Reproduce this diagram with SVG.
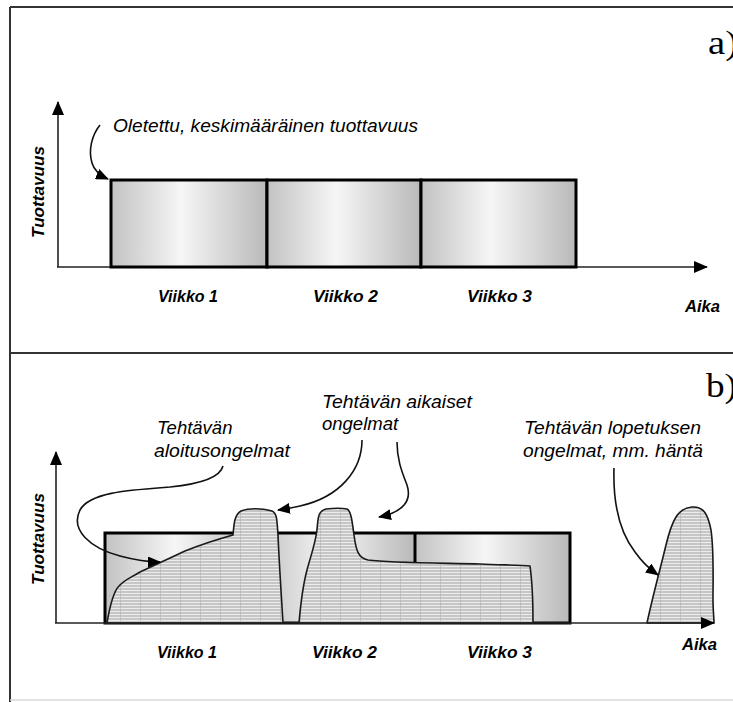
<svg xmlns="http://www.w3.org/2000/svg" width="733" height="702" viewBox="0 0 733 702">
  <style>
    .frame { stroke: #333; stroke-width: 2; fill: none; }
    .axis { stroke: #222; stroke-width: 1.6; fill: none; }
    .cell { fill: url(#cellGrad); stroke: #000; stroke-width: 3; }
    .div { stroke: #000; stroke-width: 3; }
    .blob { fill: url(#hatch); stroke: #1a1a1a; stroke-width: 1.6; stroke-linejoin: round; }
    .lead { stroke: #111; stroke-width: 1.6; fill: none; marker-end: url(#head); }
    .note { font-family: "Liberation Sans", Arial, sans-serif; font-style: italic; font-size: 18.5px; fill: #000; }
    .lab { font-family: "Liberation Sans", Arial, sans-serif; font-style: italic; font-weight: bold; font-size: 17px; fill: #000; }
    .tag { font-family: "Liberation Serif", "Times New Roman", serif; font-size: 33px; fill: #000; }
  </style>
  <defs>
    <linearGradient id="cellGrad" x1="0" y1="0" x2="1" y2="0">
      <stop offset="0" stop-color="#c2c2c2"/>
      <stop offset="0.45" stop-color="#f6f6f6"/>
      <stop offset="1" stop-color="#b9b9b9"/>
    </linearGradient>
    <pattern id="hatch" width="20" height="3" patternUnits="userSpaceOnUse">
      <rect width="20" height="3" fill="#c6c6c6"/>
      <rect y="2" width="20" height="1" fill="#ececec"/>
      <rect x="0" width="1" height="3" fill="#b2b2b2" opacity="0.6"/>
    </pattern>
    <marker id="head" markerWidth="13" markerHeight="11" refX="12" refY="5.5" orient="auto" markerUnits="userSpaceOnUse">
      <path d="M0,0 L13,5.5 L0,11 Z" fill="#000"/>
    </marker>
    <marker id="axisHead" markerWidth="14" markerHeight="12" refX="13" refY="6" orient="auto" markerUnits="userSpaceOnUse">
      <path d="M0,0 L14,6 L0,12 Z" fill="#000"/>
    </marker>
  </defs>

  <!-- outer frame and panel divider -->
  <g id="frame">
    <line class="frame" x1="10" y1="7" x2="733" y2="7"/>
    <line class="frame" x1="10" y1="7" x2="10" y2="702"/>
    <line class="frame" x1="10" y1="353" x2="733" y2="353"/>
    <line x1="10" y1="700" x2="733" y2="700" stroke="#d8d8d8" stroke-width="1.5"/>
  </g>

  <!-- ===== panel a ===== -->
  <g id="panel-a">
    <text class="tag" x="708" y="54" textLength="30" lengthAdjust="spacingAndGlyphs">a)</text>

    <g id="axes-a">
      <line class="axis" x1="58" y1="267" x2="58" y2="102" marker-end="url(#axisHead)"/>
      <line class="axis" x1="57" y1="267" x2="707" y2="267" marker-end="url(#axisHead)"/>
      <text class="lab" transform="translate(44,192) rotate(-90)" text-anchor="middle" textLength="92" lengthAdjust="spacingAndGlyphs">Tuottavuus</text>
      <text class="lab" x="685" y="312" textLength="35" lengthAdjust="spacingAndGlyphs">Aika</text>
    </g>

    <g id="week-a1">
      <rect class="cell" x="111" y="180" width="156" height="87"/>
      <text class="lab" x="158" y="302" textLength="60" lengthAdjust="spacingAndGlyphs">Viikko 1</text>
    </g>
    <g id="week-a2">
      <rect class="cell" x="267" y="180" width="154" height="87"/>
      <text class="lab" x="313" y="302" textLength="65" lengthAdjust="spacingAndGlyphs">Viikko 2</text>
    </g>
    <g id="week-a3">
      <rect class="cell" x="421" y="180" width="155" height="87"/>
      <text class="lab" x="467" y="302" textLength="65" lengthAdjust="spacingAndGlyphs">Viikko 3</text>
    </g>

    <g id="note-a">
      <text class="note" x="113" y="132" textLength="305" lengthAdjust="spacingAndGlyphs">Oletettu, keskimääräinen tuottavuus</text>
    </g>
  </g>

  <!-- ===== panel b ===== -->
  <g id="panel-b">
    <text class="tag" x="706" y="397" textLength="31" lengthAdjust="spacingAndGlyphs">b)</text>

    <g id="weeks-b">
      <rect x="105" y="533" width="155" height="90" fill="url(#cellGrad)"/>
      <rect x="260" y="533" width="155" height="90" fill="url(#cellGrad)"/>
      <rect x="415" y="533" width="155" height="90" fill="url(#cellGrad)"/>
      <line class="div" x1="260" y1="533" x2="260" y2="623"/>
      <line class="div" x1="415" y1="533" x2="415" y2="623"/>
      <rect x="105" y="533" width="465" height="90" fill="none" stroke="#000" stroke-width="3"/>
      <text class="lab" x="157" y="658" textLength="60" lengthAdjust="spacingAndGlyphs">Viikko 1</text>
      <text class="lab" x="312" y="658" textLength="65" lengthAdjust="spacingAndGlyphs">Viikko 2</text>
      <text class="lab" x="467" y="658" textLength="65" lengthAdjust="spacingAndGlyphs">Viikko 3</text>
    </g>

    <!-- actual productivity curves -->
    <g id="output-start">
      <path class="blob" d="M107,623 C110,605 113,592 119,586 C124,580 130,578 140,572 C155,565 170,558 185,551 C200,545 215,540 233,535 C234,525 234,515 241,511 C248,508 262,508 272,511 C277,513 277,520 278,535 C279,560 281,590 283,623 Z"/>
    </g>
    <g id="output-middle">
      <path class="blob" d="M299,623 C301,600 303,585 307,570 C311,555 315,545 317,530 C318,518 318,511 326,509 C334,508 342,508 347,509 C351,511 352,520 354,535 C356,550 358,558 368,560 C390,563 440,563 480,564 C500,565 520,565 530,566 C532,580 533,600 533,623 Z"/>
    </g>
    <g id="output-tail">
      <path class="blob" d="M647,623 C653,595 660,570 666,545 C672,520 678,508 692,507 C704,506 708,515 711,530 C714,550 713,580 713,600 C713,610 714,618 714,623 Z"/>
    </g>

    <g id="axes-b">
      <line class="axis" x1="56" y1="623" x2="56" y2="452" marker-end="url(#axisHead)"/>
      <line class="axis" x1="55" y1="623" x2="714" y2="623" marker-end="url(#axisHead)"/>
      <text class="lab" transform="translate(44,539) rotate(-90)" text-anchor="middle" textLength="92" lengthAdjust="spacingAndGlyphs">Tuottavuus</text>
      <text class="lab" x="682" y="650" textLength="35" lengthAdjust="spacingAndGlyphs">Aika</text>
    </g>

    <g id="note-start">
      <text class="note" x="157" y="434">Tehtävän</text>
      <text class="note" x="154" y="457" textLength="136" lengthAdjust="spacingAndGlyphs">aloitusongelmat</text>
    </g>
    <g id="note-early">
      <text class="note" x="322" y="408" textLength="150" lengthAdjust="spacingAndGlyphs">Tehtävän aikaiset</text>
      <text class="note" x="322" y="430">ongelmat</text>
    </g>
    <g id="note-end">
      <text class="note" x="524" y="434" textLength="177" lengthAdjust="spacingAndGlyphs">Tehtävän lopetuksen</text>
      <text class="note" x="523" y="457" textLength="180" lengthAdjust="spacingAndGlyphs">ongelmat, mm. häntä</text>
    </g>
  </g>

  <!-- callout connectors -->
  <g id="connectors">
    <path class="lead" d="M100,125 C92,135 88,150 92,163 C94,170 99,175 108,179"/>
    <path class="lead" d="M223,466 C220,478 200,484 170,487 C130,490 90,492 80,510 C70,530 90,548 120,556 C135,560 148,562 160,562"/>
    <path class="lead" d="M362,440 C362,470 340,497 300,506 C292,508 285,509 278,510"/>
    <path class="lead" d="M397,442 C397,460 402,472 407,485 C412,500 404,512 379,517"/>
    <path class="lead" d="M614,468 C613,500 618,530 635,552 C642,562 648,568 658,575"/>
  </g>
</svg>
